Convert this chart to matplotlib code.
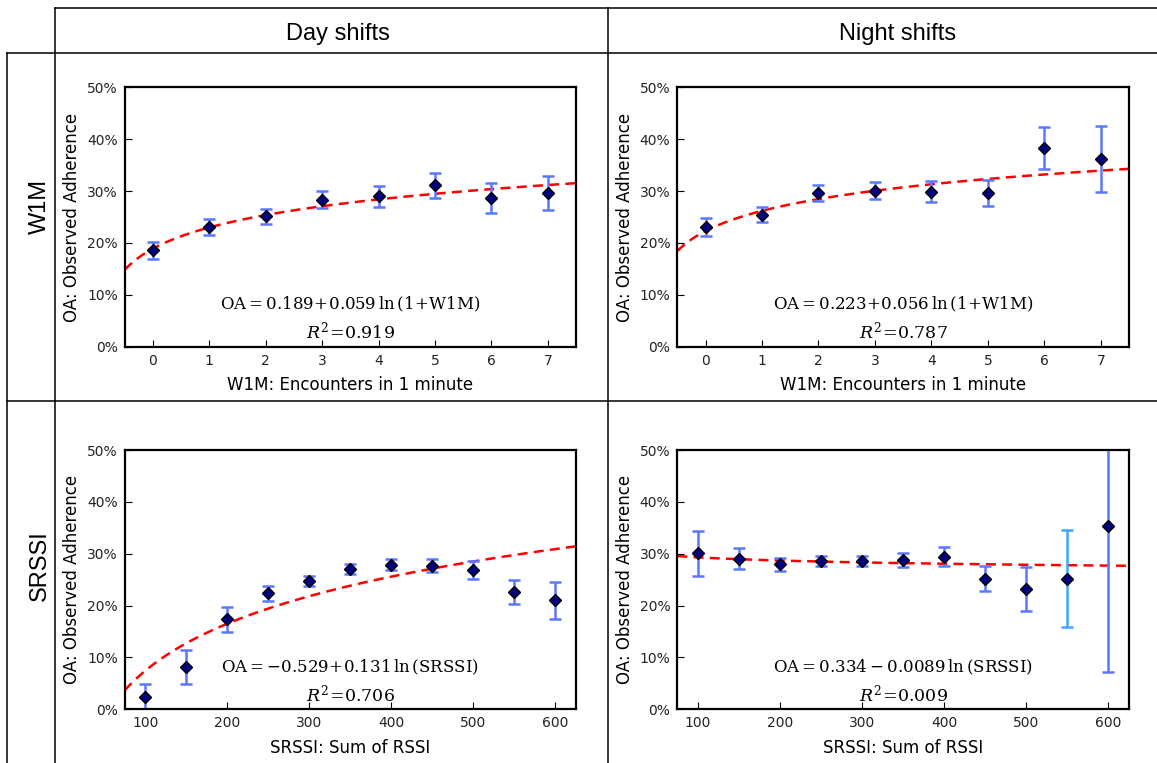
import numpy as np
import matplotlib
matplotlib.use("Agg")
import matplotlib.pyplot as plt
from matplotlib.lines import Line2D
from matplotlib.ticker import FuncFormatter

# ---------------- data ----------------
w1m_x = [0, 1, 2, 3, 4, 5, 6, 7]
day_w1m = [18.6, 23.1, 25.1, 28.3, 29.0, 31.1, 28.65, 29.6]
day_w1m_err = [1.6, 1.5, 1.4, 1.65, 2.0, 2.45, 2.85, 3.3]
night_w1m = [23.1, 25.4, 29.55, 30.1, 29.9, 29.7, 38.3, 36.15]
night_w1m_err = [1.8, 1.45, 1.55, 1.65, 2.0, 2.5, 4.1, 6.3]

srssi_x = [100, 150, 200, 250, 300, 350, 400, 450, 500, 550, 600]
day_srssi = [2.4, 8.1, 17.4, 22.35, 24.8, 27.1, 27.9, 27.7, 26.8, 22.7, 21.0]
day_srssi_err = [2.5, 3.25, 2.4, 1.4, 1.0, 0.95, 1.1, 1.3, 1.7, 2.3, 3.55]
night_srssi = [30.1, 29.05, 28.0, 28.6, 28.6, 28.8, 29.4, 25.2, 23.2, 25.2, 35.3]
night_srssi_err = [4.3, 2.0, 1.25, 1.05, 1.05, 1.3, 1.8, 2.45, 4.2, 9.4, 28.2]

# fit coefficients (intercept, slope) as printed in the chart
fit_day_w1m = (0.189, 0.059)
fit_night_w1m = (0.223, 0.056)
fit_day_srssi = (-0.529, 0.131)
fit_night_srssi = (0.334, -0.0089)

eq_day_w1m = r"$\mathrm{OA}=0.189\!+\!0.059\,\ln\left(1\!+\!\mathrm{W1M}\right)$"
eq_night_w1m = r"$\mathrm{OA}=0.223\!+\!0.056\,\ln\left(1\!+\!\mathrm{W1M}\right)$"
eq_day_srssi = r"$\mathrm{OA}=-0.529\!+\!0.131\,\ln\left(\mathrm{SRSSI}\right)$"
eq_night_srssi = r"$\mathrm{OA}=0.334-0.0089\,\ln\left(\mathrm{SRSSI}\right)$"
r2_day_w1m = r"$R^2\!=\!0.919$"
r2_night_w1m = r"$R^2\!=\!0.787$"
r2_day_srssi = r"$R^2\!=\!0.706$"
r2_night_srssi = r"$R^2\!=\!0.009$"

col_titles = ["Day shifts", "Night shifts"]
row_titles = ["W1M", "SRSSI"]
xlabel_w1m = "W1M: Encounters in 1 minute"
xlabel_srssi = "SRSSI: Sum of RSSI"
ylabel = "OA: Observed Adherence"

# ---------------- figure ----------------
W, H = 1157, 763
plt.rcParams["mathtext.fontset"] = "dejavuserif"
fig = plt.figure(figsize=(W / 100, H / 100), dpi=100)
fig.patch.set_facecolor("white")


def px_axes(x0, x1, y0, y1):
    return fig.add_axes([x0 / W, 1 - y1 / H, (x1 - x0) / W, (y1 - y0) / H])


ax_tl = px_axes(124.7, 576, 87.3, 346.7)
ax_tr = px_axes(677.3, 1129, 87.3, 346.7)
ax_bl = px_axes(124.7, 576, 450, 709.3)
ax_br = px_axes(677.3, 1129, 450, 709.3)

pct = FuncFormatter(lambda v, p: "%d%%" % round(v))

EB = "#5a78ff"


def panel(ax, x, y, err, fit, kind, eq, r2, xlabel, xlim, xticks, ecolors=None):
    xs = np.linspace(xlim[0], xlim[1], 300)
    if kind == "w1m":
        fy = (fit[0] + fit[1] * np.log(1 + xs)) * 100
    else:
        fy = (fit[0] + fit[1] * np.log(xs)) * 100
    ax.plot(xs, fy, color="red", ls=(0, (4, 2.5)), lw=1.8, zorder=1)
    if ecolors is None:
        ecolors = [EB] * len(x)
    for xi, yi, ei, ci in zip(x, y, err, ecolors):
        ax.errorbar([xi], [yi], yerr=[ei], fmt="none", ecolor=ci, elinewidth=1.8,
                    capsize=4, capthick=1.8, zorder=2)
    ax.plot(x, y, ls="none", marker="D", ms=6.5, mfc="#000080", mec="black",
            mew=1.0, zorder=3)
    ax.set_xlim(*xlim)
    ax.set_ylim(0, 50)
    ax.set_xticks(xticks)
    ax.set_yticks([0, 10, 20, 30, 40, 50])
    ax.yaxis.set_major_formatter(pct)
    ax.tick_params(direction="in", length=5, width=0.8, labelsize=10,
                   top=False, right=False, pad=5, labelcolor="#222222")
    for s in ax.spines.values():
        s.set_linewidth(1.6)
    ax.set_xlabel(xlabel, fontsize=12, labelpad=6)
    ax.set_ylabel(ylabel, fontsize=12, labelpad=4)
    ax.text(0.5, 0.163, eq, transform=ax.transAxes, ha="center", va="center",
            fontsize=12)
    ax.text(0.5, 0.058, r2, transform=ax.transAxes, ha="center", va="center",
            fontsize=12.5)


panel(ax_tl, w1m_x, day_w1m, day_w1m_err, fit_day_w1m, "w1m", eq_day_w1m,
      r2_day_w1m, xlabel_w1m, (-0.5, 7.5), w1m_x)
panel(ax_tr, w1m_x, night_w1m, night_w1m_err, fit_night_w1m, "w1m", eq_night_w1m,
      r2_night_w1m, xlabel_w1m, (-0.5, 7.5), w1m_x)
panel(ax_bl, srssi_x, day_srssi, day_srssi_err, fit_day_srssi, "srssi", eq_day_srssi,
      r2_day_srssi, xlabel_srssi, (75, 625), [100, 200, 300, 400, 500, 600])
night_cols = [EB] * len(srssi_x)
night_cols[9] = "#3ea6ff"
panel(ax_br, srssi_x, night_srssi, night_srssi_err, fit_night_srssi, "srssi",
      eq_night_srssi, r2_night_srssi, xlabel_srssi, (75, 625),
      [100, 200, 300, 400, 500, 600], ecolors=night_cols)

# ---------------- table grid ----------------
def hline(y, x0, x1):
    fig.add_artist(Line2D([x0 / W, x1 / W], [1 - y / H, 1 - y / H],
                          color="black", lw=1.1, transform=fig.transFigure))


def vline(x, y0, y1):
    fig.add_artist(Line2D([x / W, x / W], [1 - y0 / H, 1 - y1 / H],
                          color="black", lw=1.1, transform=fig.transFigure))


hline(8, 55, W)
hline(53, 7, W)
hline(401, 7, W)
vline(55, 8, H)
vline(7, 53, H)
vline(607.5, 8, H)

title_font = ["Liberation Sans Narrow", "Liberation Sans", "DejaVu Sans"]
fig.text(338 / W, 1 - 34 / H, col_titles[0], ha="center", va="center",
         fontsize=17, family=title_font)
fig.text(898 / W, 1 - 34 / H, col_titles[1], ha="center", va="center",
         fontsize=17, family=title_font)
fig.text(40 / W, 1 - 206 / H, row_titles[0], ha="center", va="center",
         fontsize=17, family=title_font, rotation=90)
fig.text(40 / W, 1 - 566 / H, row_titles[1], ha="center", va="center",
         fontsize=17, family=title_font, rotation=90)

fig.savefig("out.png", dpi=100, facecolor="white")
